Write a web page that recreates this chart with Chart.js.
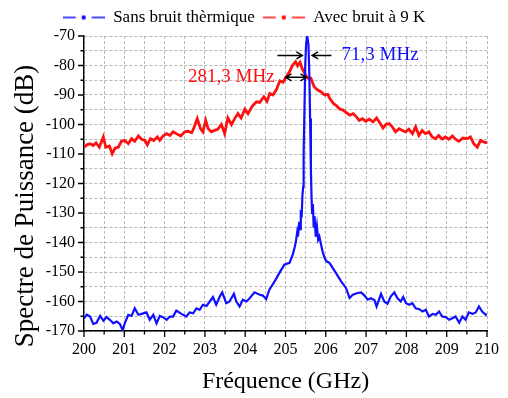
<!DOCTYPE html>
<html>
<head>
<meta charset="utf-8">
<script src="https://cdn.jsdelivr.net/npm/chart.js@4.4.0/dist/chart.umd.min.js"></script>
<style>
  html, body { margin: 0; padding: 0; background: #fff; }
  #wrap { width: 508px; height: 398px; }
</style>
</head>
<body>
<div id="wrap"><canvas id="spectre"></canvas></div>
<script>
// Spectre sans bruit thermique
const freqSans = [200.00,200.07,200.15,200.23,200.31,200.40,200.48,200.56,200.64,200.73,
  200.81,200.89,200.96,201.01,201.10,201.18,201.26,201.35,201.43,201.55,
  201.63,201.72,201.80,201.88,201.96,202.05,202.13,202.21,202.29,202.42,
  202.54,202.62,202.71,202.79,202.87,202.95,203.04,203.12,203.20,203.28,
  203.37,203.43,203.53,203.61,203.72,203.78,203.86,203.94,204.03,204.11,
  204.23,204.36,204.44,204.52,204.60,204.73,204.85,204.97,205.10,205.18,
  205.23,205.26,205.29,205.31,205.34,205.36,205.38,205.40,205.42,205.44,
  205.45,205.47,205.49,205.51,205.54,205.57,205.59,205.61,205.63,205.645,
  205.66,205.68,205.70,205.72,205.75,205.78,205.81,205.84,205.88,205.92,
  205.97,206.01,206.09,206.17,206.25,206.38,206.50,206.59,206.67,206.79,
  206.88,206.96,207.04,207.12,207.21,207.26,207.37,207.45,207.53,207.61,
  207.70,207.78,207.86,207.92,207.99,208.07,208.15,208.23,208.32,208.40,
  208.48,208.56,208.65,208.73,208.81,208.89,208.98,209.06,209.14,209.22,
  209.31,209.39,209.47,209.55,209.64,209.72,209.80,209.88,209.97,210.00];
const dbSans = [-165.7,-164.5,-165.1,-167.6,-167.2,-164.9,-166.5,-165.3,-166.2,-167.4,
  -166.8,-167.6,-169.7,-167.4,-164.5,-164.9,-162.3,-164.5,-164.2,-163.7,
  -166.2,-164.5,-167.4,-164.9,-165.3,-166.2,-165.1,-165.1,-163.1,-164.2,
  -165.1,-163.7,-164.0,-162.3,-162.8,-161.1,-161.5,-160.0,-158.5,-161.1,
  -158.3,-156.9,-160.6,-160.0,-157.4,-160.0,-161.7,-159.4,-160.0,-158.9,
  -156.9,-157.7,-158.0,-159.2,-156.0,-153.2,-150.3,-147.5,-146.9,-144.1,
  -141.5,-139.5,-136.5,-138.0,-133.0,-135.5,-129.0,-131.5,-124.0,-121.0,
  -110,-95,-80,-73,-70,-73,-82,-98,-115,-124,
  -130,-127,-135,-131,-138,-134.5,-139,-138,-140.6,-143,
  -145.2,-146.3,-146.9,-148.6,-150.3,-153.2,-155.4,-158.8,-157.7,-157.1,
  -156.9,-158.0,-159.4,-158.9,-159.6,-161.7,-157.4,-160.0,-160.8,-158.3,
  -156.9,-158.9,-160.0,-158.5,-160.6,-161.1,-160.6,-162.3,-162.6,-163.4,
  -162.8,-165.1,-164.2,-164.5,-163.4,-165.1,-165.3,-166.2,-165.7,-165.1,
  -167.2,-165.1,-166.2,-163.7,-164.2,-163.7,-161.7,-163.4,-164.5,-164.2];

// Spectre avec bruit à 9 K
const freqAvec = [200.00,200.07,200.15,200.23,200.30,200.38,200.48,200.54,200.63,200.70,
  200.77,200.85,200.93,201.01,201.10,201.18,201.26,201.35,201.43,201.51,
  201.57,201.65,201.73,201.82,201.88,201.96,202.05,202.13,202.21,202.29,
  202.40,202.50,202.58,202.67,202.72,202.81,202.89,202.95,203.02,203.08,
  203.16,203.24,203.32,203.41,203.49,203.57,203.66,203.74,203.82,203.90,
  203.99,204.07,204.18,204.28,204.36,204.46,204.54,204.61,204.69,204.78,
  204.86,204.94,205.02,205.10,205.18,205.25,205.30,205.36,205.41,205.47,
  205.55,205.63,205.71,205.80,205.88,205.97,206.05,206.10,206.19,206.27,
  206.35,206.43,206.52,206.60,206.68,206.76,206.83,206.91,206.99,207.08,
  207.17,207.26,207.34,207.42,207.49,207.57,207.65,207.73,207.82,207.90,
  207.98,208.06,208.15,208.23,208.31,208.39,208.47,208.56,208.64,208.72,
  208.80,208.89,208.97,209.05,209.14,209.22,209.30,209.40,209.51,209.59,
  209.67,209.76,209.84,209.92,210.00];
const dbAvec = [-107.7,-106.9,-106.5,-107.1,-106.2,-107.7,-104.2,-107.7,-107.3,-109.9,
  -108.0,-107.7,-105.7,-105.4,-106.5,-104.8,-105.7,-103.9,-105.0,-105.4,
  -106.9,-104.8,-105.4,-104.2,-105.4,-103.9,-103.1,-103.7,-102.5,-103.1,
  -103.9,-102.5,-102.3,-102.8,-101.4,-98.0,-101.4,-102.5,-98.6,-101.4,
  -102.5,-102.0,-101.6,-100.0,-103.1,-97.8,-100.0,-98.0,-96.3,-97.8,
  -94.8,-96.3,-93.7,-92.3,-92.5,-90.6,-92.1,-89.5,-90.0,-88.0,
  -85.2,-85.7,-83.8,-82.1,-79.8,-78.7,-80.1,-78.9,-80.9,-82.6,
  -84.3,-84.3,-87.2,-88.3,-88.9,-90.0,-89.8,-91.2,-92.9,-93.7,
  -94.8,-95.1,-96.1,-96.8,-96.3,-97.4,-98.6,-98.0,-98.9,-98.2,
  -99.1,-97.8,-99.4,-101.2,-100.0,-99.7,-100.8,-102.5,-101.4,-102.0,
  -102.5,-101.6,-103.1,-100.8,-103.7,-102.0,-103.1,-102.5,-104.2,-104.8,
  -103.7,-105.0,-104.2,-105.0,-103.9,-105.0,-105.7,-104.6,-104.8,-104.2,
  -106.5,-107.7,-105.4,-105.9,-106.2];

const xRange = [200, 210];
const yRange = [-170, -70];

const SERIF = "'Times New Roman', 'Liberation Serif', serif";
const BLUE = '#1010ff';
const RED = '#ff1010';
const GRID = '#b8b8b8';

// legend marker: dash, dot, dash
function legendMark(color) {
  const c = document.createElement('canvas');
  c.width = 42; c.height = 8;
  const g = c.getContext('2d');
  g.strokeStyle = color; g.fillStyle = color; g.lineWidth = 1.6;
  g.beginPath();
  g.moveTo(0, 4); g.lineTo(13, 4);
  g.moveTo(29, 4); g.lineTo(42, 4);
  g.stroke();
  g.beginPath(); g.arc(21, 4, 2.2, 0, Math.PI * 2); g.fill();
  return c;
}

function toPoints(xs, ys) {
  return xs.map((x, i) => ({ x: x, y: ys[i] }));
}

function arrow(ctx, x1, y1, x2, y2) {
  const dir = Math.sign(x2 - x1);
  ctx.beginPath();
  ctx.moveTo(x1, y1); ctx.lineTo(x2, y2);
  ctx.moveTo(x2 - dir * 6, y2 - 3.5); ctx.lineTo(x2, y2); ctx.lineTo(x2 - dir * 6, y2 + 3.5);
  ctx.stroke();
}

// tick marks outside the axes, y title, width annotations
const extras = {
  id: 'extras',
  afterDraw(chart) {
    const { ctx, scales: { x, y }, chartArea: a } = chart;
    ctx.save();
    ctx.strokeStyle = '#000';
    ctx.lineWidth = 1.3;
    ctx.beginPath();
    x.ticks.forEach(t => {
      const px = x.getPixelForValue(t.value);
      const len = Number.isInteger(t.value) ? 6 : 3.5;
      ctx.moveTo(px, a.bottom); ctx.lineTo(px, a.bottom + len);
    });
    y.ticks.forEach(t => {
      const py = y.getPixelForValue(t.value);
      const len = t.value % 10 === 0 ? 6 : 3.5;
      ctx.moveTo(a.left, py); ctx.lineTo(a.left - len, py);
    });
    ctx.stroke();

    // y axis title
    ctx.save();
    ctx.translate(26, 206);
    ctx.rotate(-Math.PI / 2);
    ctx.font = '27px ' + SERIF;
    ctx.fillStyle = '#000';
    ctx.textAlign = 'center';
    ctx.textBaseline = 'middle';
    ctx.fillText('Spectre de Puissance (dB)', 0, 0);
    ctx.restore();

    // 71,3 MHz
    ctx.lineWidth = 1.4;
    const yA = y.getPixelForValue(-76.6);
    arrow(ctx, x.getPixelForValue(204.80), yA, x.getPixelForValue(205.42), yA);
    arrow(ctx, x.getPixelForValue(206.14), yA, x.getPixelForValue(205.66), yA);
    ctx.font = '19px ' + SERIF;
    ctx.textBaseline = 'middle';
    ctx.fillStyle = BLUE;
    ctx.textAlign = 'left';
    ctx.fillText('71,3 MHz', x.getPixelForValue(206.39), yA);

    // 281,3 MHz
    const yB = y.getPixelForValue(-84);
    const xb1 = x.getPixelForValue(205.0), xb2 = x.getPixelForValue(205.52);
    const mid = (xb1 + xb2) / 2;
    arrow(ctx, mid, yB, xb1, yB);
    arrow(ctx, mid, yB, xb2, yB);
    ctx.fillStyle = RED;
    ctx.textAlign = 'right';
    ctx.fillText('281,3 MHz', x.getPixelForValue(204.73), yB);
    ctx.restore();
  }
};

const ctx = document.getElementById('spectre').getContext('2d');
new Chart(ctx, {
  type: 'line',
  data: {
    datasets: [
      {
        label: 'Sans bruit thèrmique',
        data: toPoints(freqSans, dbSans),
        borderColor: BLUE,
        borderWidth: 2.2,
        pointRadius: 0,
        tension: 0
      },
      {
        label: 'Avec bruit à 9 K',
        data: toPoints(freqAvec, dbAvec),
        borderColor: RED,
        borderWidth: 2.8,
        pointRadius: 0,
        tension: 0
      }
    ]
  },
  options: {
    responsive: true,
    maintainAspectRatio: false,
    animation: false,
    layout: { padding: { top: 1, right: 20, bottom: 0, left: 0 } },
    plugins: {
      tooltip: { enabled: false },
      legend: {
        position: 'top',
        align: 'center',
        labels: {
          font: { family: SERIF, size: 17 },
          color: '#000',
          usePointStyle: true,
          pointStyleWidth: 42,
          padding: 8,
          generateLabels(chart) {
            const items = Chart.defaults.plugins.legend.labels.generateLabels(chart);
            items.forEach(it => { it.pointStyle = legendMark(chart.data.datasets[it.datasetIndex].borderColor); });
            return items;
          }
        }
      }
    },
    scales: {
      x: {
        type: 'linear',
        min: xRange[0],
        max: xRange[1],
        afterFit(scale) { scale.height = 67; },
        ticks: {
          stepSize: 0.5,
          padding: 9,
          color: '#000',
          font: { family: SERIF, size: 16 },
          maxRotation: 0,
          autoSkip: false,
          callback: v => Number.isInteger(v) ? String(v) : ''
        },
        grid: { color: GRID, lineWidth: 1, drawTicks: false },
        border: { color: '#000', width: 1.4, dash: [3, 2] },
        title: {
          display: true,
          text: 'Fréquence (GHz)',
          color: '#000',
          font: { family: SERIF, size: 24 },
          padding: { top: 0, bottom: 2 }
        }
      },
      y: {
        min: yRange[0],
        max: yRange[1],
        afterFit(scale) { scale.width = 84; },
        ticks: {
          stepSize: 5,
          padding: 9,
          color: '#000',
          font: { family: SERIF, size: 16 },
          autoSkip: false,
          callback: v => v % 10 === 0 ? String(v) : ''
        },
        grid: { color: GRID, lineWidth: 1, drawTicks: false },
        border: { color: '#000', width: 1.4, dash: [3, 2] }
      }
    }
  },
  plugins: [extras]
});
</script>
</body>
</html>
